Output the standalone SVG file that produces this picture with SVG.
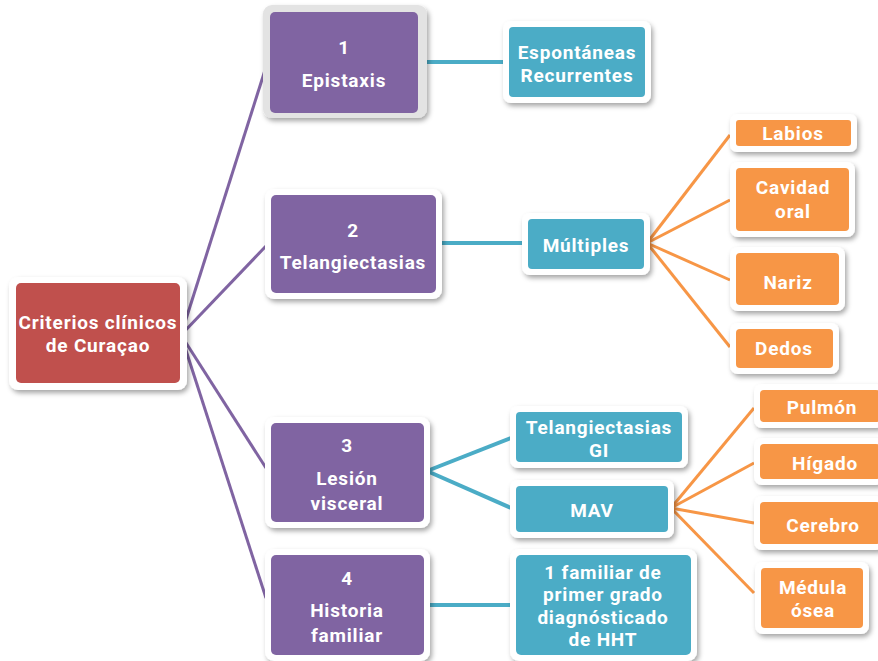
<svg xmlns="http://www.w3.org/2000/svg" width="878" height="661" viewBox="0 0 878 661">
  <defs>
    <filter id="shadow" x="-20%" y="-20%" width="150%" height="150%">
      <feDropShadow dx="2" dy="3" stdDeviation="2.5" flood-color="#000" flood-opacity="0.35"/>
    </filter>
    <style>
      .frame { fill: #ffffff; filter: url(#shadow); }
      .frame-sel { fill: #e3e3e3; filter: url(#shadow); }
      .red { fill: #c0504d; }
      .purple { fill: #8064a2; }
      .teal { fill: #4bacc6; }
      .orange { fill: #f79646; }
      text { font-family: Roboto, "Open Sans", sans-serif; font-weight: bold; font-size: 19px; letter-spacing: 0.8px; fill: #ffffff; text-anchor: middle; }
      .c-purple { stroke: #8064a2; stroke-width: 3; fill: none; }
      .c-teal { stroke: #4bacc6; stroke-width: 4; fill: none; }
      .c-orange { stroke: #f79646; stroke-width: 3; fill: none; }
    </style>
  </defs>
  <rect width="878" height="661" fill="#ffffff"/>

  <g id="connectors">
    <!-- root to criteria -->
    <line class="c-purple" x1="181" y1="335" x2="266" y2="67"/>
    <line class="c-purple" x1="181" y1="335" x2="266" y2="246"/>
    <line class="c-purple" x1="181" y1="335" x2="266" y2="468"/>
    <line class="c-purple" x1="181" y1="335" x2="266" y2="598"/>
    <!-- criteria to details -->
    <line class="c-teal" x1="420" y1="62" x2="504" y2="62"/>
    <line class="c-teal" x1="438" y1="243" x2="523" y2="243"/>
    <line class="c-teal" x1="427" y1="471" x2="511" y2="438"/>
    <line class="c-teal" x1="427" y1="471" x2="511" y2="508"/>
    <line class="c-teal" x1="427" y1="605" x2="511" y2="605"/>
    <!-- Múltiples to sites -->
    <line class="c-orange" x1="647" y1="243" x2="730" y2="135"/>
    <line class="c-orange" x1="647" y1="243" x2="730" y2="200"/>
    <line class="c-orange" x1="647" y1="243" x2="730" y2="280"/>
    <line class="c-orange" x1="647" y1="243" x2="730" y2="347"/>
    <!-- MAV to organs -->
    <line class="c-orange" x1="671" y1="508" x2="754" y2="408"/>
    <line class="c-orange" x1="671" y1="508" x2="754" y2="463"/>
    <line class="c-orange" x1="671" y1="508" x2="754" y2="523"/>
    <line class="c-orange" x1="671" y1="508" x2="754" y2="593"/>
  </g>

  <g id="root">
    <rect class="frame" x="9" y="277" width="178" height="113" rx="9"/>
    <rect class="red" x="16" y="283" width="164" height="100" rx="5"/>
    <text x="98" y="329">Criterios clínicos</text>
    <text x="98" y="352">de Curaçao</text>
  </g>

  <g id="epistaxis">
    <rect class="frame-sel" x="263" y="5" width="164" height="113" rx="9"/>
    <rect class="purple" x="270" y="12" width="148" height="101" rx="5"/>
    <text x="344" y="54">1</text>
    <text x="344" y="87">Epistaxis</text>
  </g>

  <g id="espontaneas">
    <rect class="frame" x="503" y="21" width="148" height="82" rx="8"/>
    <rect class="teal" x="509" y="27" width="136" height="70" rx="4"/>
    <text x="577" y="59">Espontáneas</text>
    <text x="577" y="82">Recurrentes</text>
  </g>

  <g id="telangiectasias">
    <rect class="frame" x="265" y="189" width="177" height="110" rx="9"/>
    <rect class="purple" x="271" y="195" width="165" height="98" rx="5"/>
    <text x="353" y="237">2</text>
    <text x="353" y="269">Telangiectasias</text>
  </g>

  <g id="multiples">
    <rect class="frame" x="522" y="213" width="128" height="62" rx="8"/>
    <rect class="teal" x="528" y="219" width="116" height="50" rx="4"/>
    <text x="586" y="252">Múltiples</text>
  </g>

  <g id="labios">
    <rect class="frame" x="730" y="114" width="127" height="38" rx="7"/>
    <rect class="orange" x="736" y="120" width="115" height="26" rx="3"/>
    <text x="793" y="140">Labios</text>
  </g>

  <g id="cavidad-oral">
    <rect class="frame" x="730" y="162" width="125" height="75" rx="8"/>
    <rect class="orange" x="736" y="168" width="113" height="63" rx="4"/>
    <text x="793" y="194">Cavidad</text>
    <text x="793" y="218">oral</text>
  </g>

  <g id="nariz">
    <rect class="frame" x="730" y="247" width="115" height="64" rx="8"/>
    <rect class="orange" x="736" y="253" width="103" height="52" rx="4"/>
    <text x="788" y="289">Nariz</text>
  </g>

  <g id="dedos">
    <rect class="frame" x="730" y="323" width="109" height="51" rx="8"/>
    <rect class="orange" x="736" y="329" width="97" height="39" rx="4"/>
    <text x="784" y="355">Dedos</text>
  </g>

  <g id="lesion-visceral">
    <rect class="frame" x="265" y="417" width="165" height="111" rx="9"/>
    <rect class="purple" x="271" y="423" width="153" height="99" rx="5"/>
    <text x="347" y="452">3</text>
    <text x="347" y="485">Lesión</text>
    <text x="347" y="510">visceral</text>
  </g>

  <g id="telangiectasias-gi">
    <rect class="frame" x="510" y="406" width="178" height="62" rx="8"/>
    <rect class="teal" x="516" y="412" width="166" height="50" rx="4"/>
    <text x="599" y="434">Telangiectasias</text>
    <text x="599" y="457">GI</text>
  </g>

  <g id="mav">
    <rect class="frame" x="510" y="480" width="164" height="58" rx="8"/>
    <rect class="teal" x="516" y="486" width="152" height="46" rx="4"/>
    <text x="592" y="517">MAV</text>
  </g>

  <g id="pulmon">
    <rect class="frame" x="754" y="384" width="130" height="44" rx="8"/>
    <rect class="orange" x="760" y="390" width="120" height="32" rx="4"/>
    <text x="822" y="414">Pulmón</text>
  </g>

  <g id="higado">
    <rect class="frame" x="754" y="438" width="130" height="47" rx="8"/>
    <rect class="orange" x="760" y="444" width="120" height="35" rx="4"/>
    <text x="825" y="470">Hígado</text>
  </g>

  <g id="cerebro">
    <rect class="frame" x="754" y="496" width="130" height="54" rx="8"/>
    <rect class="orange" x="760" y="502" width="120" height="42" rx="4"/>
    <text x="823" y="532">Cerebro</text>
  </g>

  <g id="medula-osea">
    <rect class="frame" x="755" y="562" width="114" height="72" rx="8"/>
    <rect class="orange" x="761" y="568" width="102" height="60" rx="4"/>
    <text x="813" y="594">Médula</text>
    <text x="813" y="617">ósea</text>
  </g>

  <g id="historia-familiar">
    <rect class="frame" x="265" y="549" width="165" height="112" rx="9"/>
    <rect class="purple" x="271" y="555" width="153" height="100" rx="5"/>
    <text x="347" y="585">4</text>
    <text x="347" y="617">Historia</text>
    <text x="347" y="642">familiar</text>
  </g>

  <g id="familiar-hht">
    <rect class="frame" x="510" y="549" width="187" height="112" rx="9"/>
    <rect class="teal" x="516" y="555" width="175" height="100" rx="5"/>
    <text x="603" y="578.5">1 familiar de</text>
    <text x="603" y="601">primer grado</text>
    <text x="603" y="623.5">diagnósticado</text>
    <text x="603" y="646">de HHT</text>
  </g>
</svg>
